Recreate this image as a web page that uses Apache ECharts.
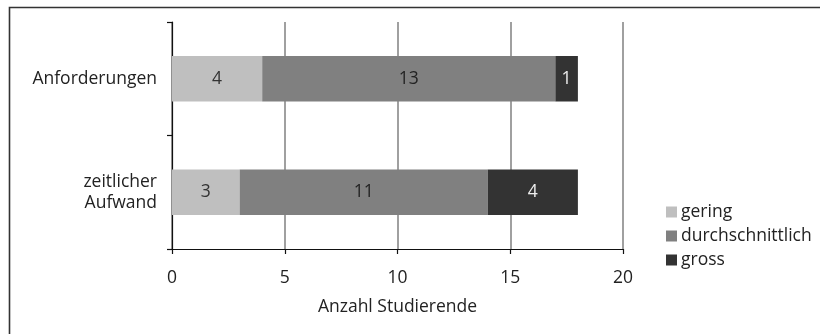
<!DOCTYPE html>
<html>
<head>
<meta charset="utf-8">
<script src="https://cdn.jsdelivr.net/npm/echarts@6/dist/echarts.min.js"></script>
<style>
  html, body { margin: 0; padding: 0; background: #fff; }
  #chart { width: 820px; height: 334px; }
</style>
</head>
<body>
<div id="chart"></div>
<script>
// Ratings of the course by students, stacked per aspect
const categories = ['Anforderungen', 'zeitlicher\nAufwand'];
const gering = [4, 3];
const durchschnittlich = [13, 11];
const gross = [1, 4];
const xTicks = [0, 5, 10, 15, 20];

const FONT = 'Open Sans';
const FS = 17.5;
const chart = echarts.init(document.getElementById('chart'), null, { renderer: 'canvas' });

function barSeries(name, data, color, labelColor) {
  return {
    name: name,
    type: 'bar',
    stack: 'total',
    data: data,
    barWidth: '40%',
    itemStyle: { color: color },
    label: {
      show: true,
      position: 'inside',
      color: labelColor,
      fontFamily: FONT,
      fontSize: FS
    }
  };
}

chart.setOption({
  animation: false,
  backgroundColor: '#fff',
  textStyle: { fontFamily: FONT },
  grid: { left: 172, right: 197, top: 22, bottom: 85 },
  legend: {
    orient: 'vertical',
    left: 661,
    top: 198,
    itemWidth: 11,
    itemHeight: 11,
    itemGap: 6,
    icon: 'rect',
    textStyle: { fontFamily: FONT, fontSize: FS, color: '#222', padding: [0, 0, 0, -1] },
    data: ['gering', 'durchschnittlich', 'gross']
  },
  xAxis: {
    type: 'value',
    min: xTicks[0],
    max: xTicks[xTicks.length - 1],
    interval: 5,
    name: 'Anzahl Studierende',
    nameLocation: 'middle',
    nameGap: 49,
    nameTextStyle: { fontFamily: FONT, fontSize: FS, color: '#222' },
    axisLine: { show: true, lineStyle: { color: '#111', width: 1.2 } },
    axisTick: { show: true, length: 5, lineStyle: { color: '#111', width: 1.2 } },
    axisLabel: { margin: 20, fontFamily: FONT, fontSize: FS, color: '#222' },
    splitLine: { show: true, lineStyle: { color: '#808080', width: 1.5 } }
  },
  yAxis: {
    type: 'category',
    inverse: true,
    data: categories,
    axisLine: { show: true, lineStyle: { color: '#111', width: 1.2 } },
    axisTick: { show: true, length: 5, lineStyle: { color: '#111', width: 1.2 } },
    axisLabel: { margin: 15, fontFamily: FONT, fontSize: FS, color: '#222', lineHeight: 21, align: 'right' }
  },
  graphic: [{
    type: 'rect',
    silent: true,
    shape: { x: 9.5, y: 7.5, width: 1000, height: 1000 },
    style: { fill: 'none', stroke: '#333', lineWidth: 1.6 }
  }],
  series: [
    barSeries('gering', gering, '#bfbfbf', '#333'),
    barSeries('durchschnittlich', durchschnittlich, '#808080', '#222'),
    barSeries('gross', gross, '#333333', '#eee')
  ]
});
</script>
</body>
</html>
